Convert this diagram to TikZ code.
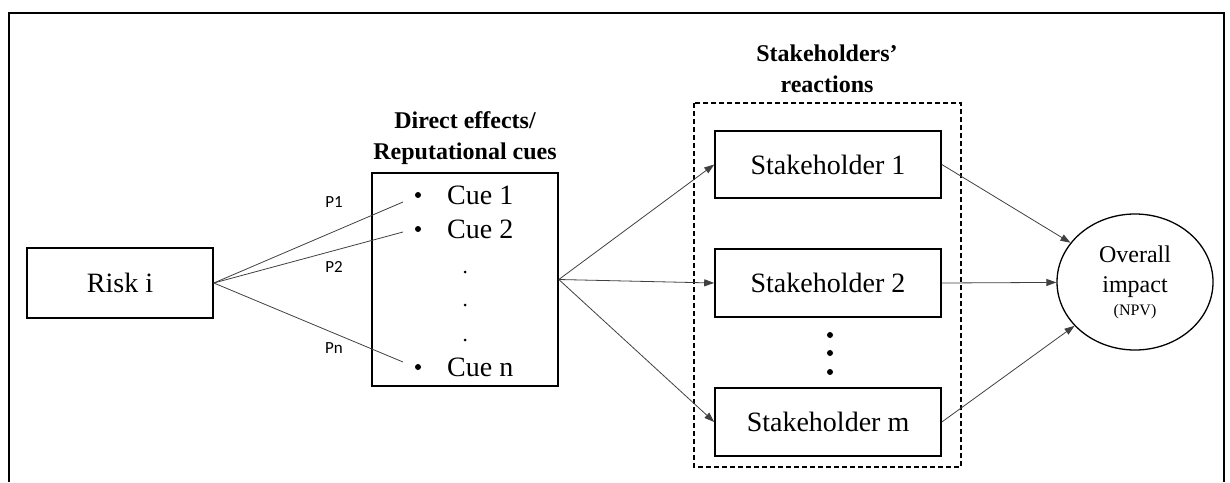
\documentclass[tikz,border=0pt]{standalone}
\usepackage{fontspec}
\setmainfont{Liberation Serif}
\newfontfamily\labelfont{Carlito}
\usetikzlibrary{arrows.meta,shapes.geometric}
\begin{document}
\begin{tikzpicture}[x=1pt,y=-1pt,
  boxnode/.style={draw=black,line width=1.6pt,rectangle,inner sep=0pt,
    font=\fontsize{28}{32}\selectfont},
  conn/.style={draw=black!75,line width=0.8pt},
  arr/.style={conn,-{Triangle[length=10pt,width=7pt]}},
  title/.style={font=\fontsize{24}{31}\selectfont\bfseries,align=center,inner sep=0pt},
  plabel/.style={font=\labelfont\fontsize{17}{20}\selectfont,inner sep=0pt},
  cuetext/.style={font=\fontsize{28}{32}\selectfont,inner sep=0pt,anchor=west},
  bulletdot/.style={circle,fill=black,inner sep=0pt,minimum size=6pt},
  smalldot/.style={circle,fill=black,inner sep=0pt,minimum size=3pt},
  bigdot/.style={circle,fill=black,inner sep=0pt,minimum size=6pt}]
\useasboundingbox (0,0) rectangle (1230,482);

% outer frame (bottom edge lies below the page)
\draw[line width=1.6pt] (9,482) -- (9,13) -- (1224,13) -- (1224,482);

% risk
\node[boxnode,minimum width=186pt,minimum height=70pt] (risk) at (120,283) {Risk i};

% cues box with its list
\node[boxnode,minimum width=186pt,minimum height=213pt] (cues) at (465,279.5) {};
\node[title] (cuestitle) at (465,138.5) {Direct effects/\\Reputational cues};
\node[bulletdot] (b1) at (418,195) {};
\node[bulletdot] (b2) at (418,229) {};
\node[bulletdot] (bn) at (418,367) {};
\node[cuetext] (cue1) at (447,195) {Cue 1};
\node[cuetext] (cue2) at (447,229) {Cue 2};
\node[cuetext] (cuen) at (447,367) {Cue n};
\node[smalldot] (d1) at (465,272) {};
\node[smalldot] (d2) at (465,305) {};
\node[smalldot] (d3) at (465,340) {};

% probability links
\coordinate (c1) at (403,202);
\coordinate (c2) at (403,232);
\coordinate (cn) at (403,362);
\draw[conn] (risk.east) -- (c1);
\draw[conn] (risk.east) -- (c2);
\draw[conn] (risk.east) -- (cn);
\node[plabel] (p1) at (334,202) {P1};
\node[plabel] (p2) at (334,267) {P2};
\node[plabel] (pn) at (334,348) {Pn};

% stakeholders
\draw[line width=1.3pt,dash pattern=on 5pt off 3pt] (694,103) rectangle (961,467);
\node[title] (shtitle) at (827,68.5) {Stakeholders’\\reactions};
\node[boxnode,minimum width=226pt,minimum height=67pt] (s1) at (828,164.5) {Stakeholder 1};
\node[boxnode,minimum width=226pt,minimum height=68pt] (s2) at (828,283) {Stakeholder 2};
\node[boxnode,minimum width=226pt,minimum height=68pt] (sm) at (828,422) {Stakeholder m};
\node[bigdot] (e1) at (830,335) {};
\node[bigdot] (e2) at (830,353) {};
\node[bigdot] (e3) at (830,372) {};

\draw[arr] (cues.east) -- (s1.west);
\draw[arr] (cues.east) -- (s2.west);
\draw[arr] (cues.east) -- (sm.west);

% overall impact
\node[ellipse,draw=black,line width=1.3pt,minimum width=156pt,minimum height=136pt,
  inner sep=0pt,align=center,font=\fontsize{24}{30}\selectfont] (npv) at (1135,282)
  {Overall\\impact\\[-7pt]{\fontsize{16}{18}\selectfont (NPV)}};

\draw[arr] (s1.east) -- (npv);
\draw[arr] (s2.east) -- (npv);
\draw[arr] (sm.east) -- (npv);
\end{tikzpicture}
\end{document}
